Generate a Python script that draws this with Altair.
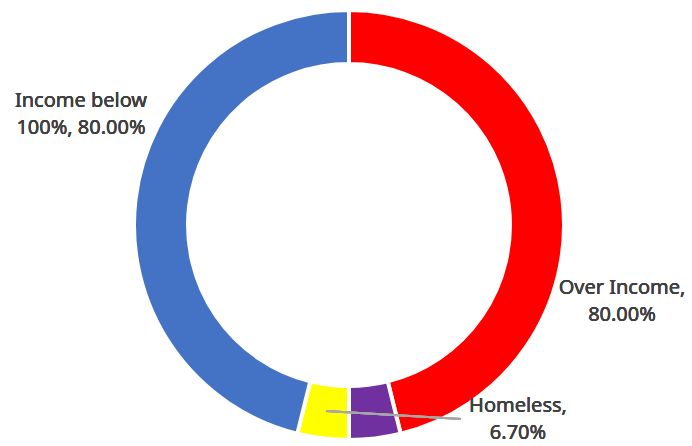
import altair as alt
import pandas as pd

categories = ["Over Income", "Homeless", "Other", "Income below 100%"]
values = [80.0, 6.7, 6.7, 80.0]
colors = ["#FF0000", "#7030A0", "#FFFF00", "#4472C4"]
label_lines = {
    "Over Income": ["Over Income,", "80.00%"],
    "Homeless": ["Homeless,", "6.70%"],
    "Income below 100%": ["Income below", "100%, 80.00%"],
}

df = pd.DataFrame({"category": categories, "value": values, "order": list(range(len(categories)))})

CX, CY = 349, 225

donut = alt.Chart(df).mark_arc(
    outerRadius=215, innerRadius=161, stroke="white", strokeWidth=4
).encode(
    theta=alt.Theta("value:Q", stack=True),
    order=alt.Order("order:Q"),
    color=alt.Color("category:N", scale=alt.Scale(domain=categories, range=colors), legend=None),
    x=alt.value(CX),
    y=alt.value(CY),
)

leader = alt.Chart(df).mark_rule(color="#A6A6A6", strokeWidth=2).encode(
    x=alt.value(326), y=alt.value(411), x2=alt.value(461), y2=alt.value(419)
)

FONT = "Noto Sans"
FS = 20
text_props = dict(font=FONT, fontSize=FS, fontWeight=400, color="#404040", align="center",
                  baseline="alphabetic", lineHeight=27)

def label(cat, x, y):
    return alt.Chart(df).mark_text(**text_props).encode(
        x=alt.value(x), y=alt.value(y), text=alt.value(label_lines[cat])
    )

chart = alt.layer(
    donut,
    leader,
    label("Income below 100%", 81, 107),
    label("Over Income", 622, 294),
    label("Homeless", 518, 412),
).properties(
    width=692, height=446, padding=0, autosize=alt.AutoSizeParams(type="none")
).configure_view(stroke=None)

chart.save("out.html", embed_options={"renderer": "svg", "actions": False})
